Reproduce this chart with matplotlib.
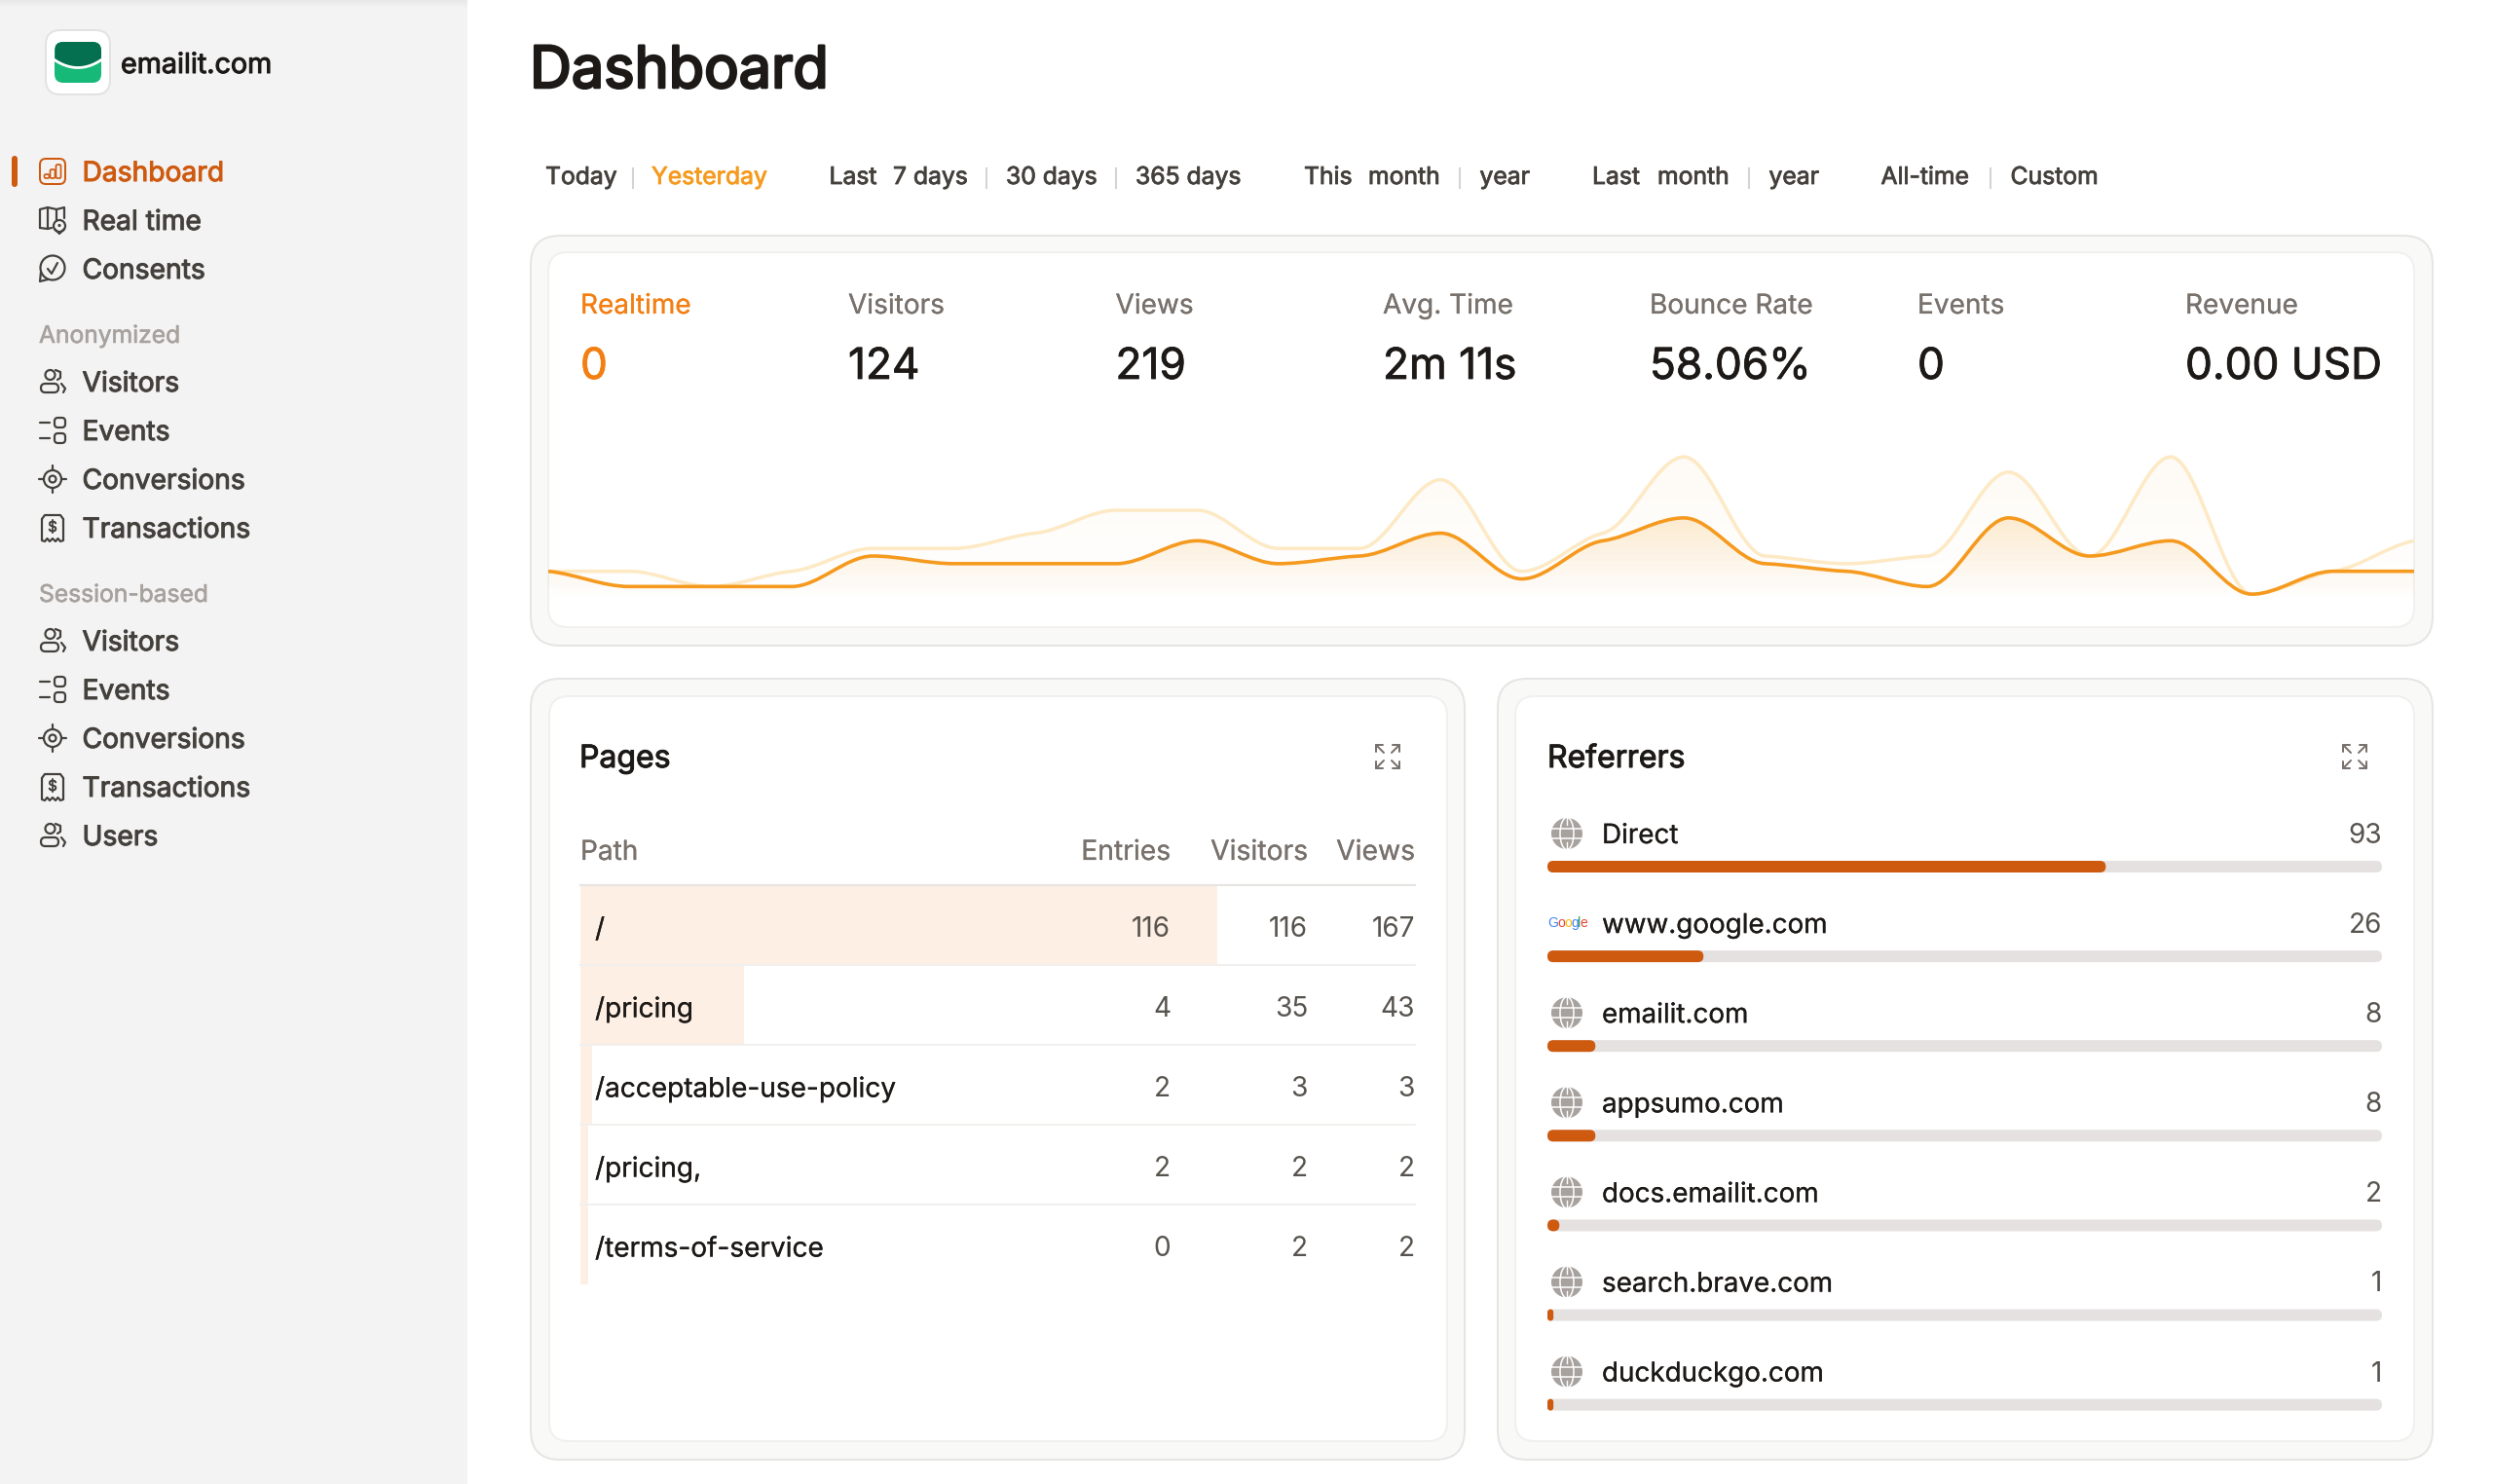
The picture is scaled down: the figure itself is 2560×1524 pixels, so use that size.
import numpy as np
import matplotlib
matplotlib.use("Agg")
import matplotlib.pyplot as plt
import matplotlib.patheffects as pe
from matplotlib.colors import LinearSegmentedColormap
from matplotlib.patches import FancyBboxPatch, PathPatch, Circle, Ellipse, Rectangle
from matplotlib.path import Path

# ---------- data ----------
hours = list(range(24))
visitors_series = [4, 2, 2, 2, 6, 5, 5, 5, 8, 5, 6, 9, 3, 8, 11, 5, 4, 2, 11, 6, 8, 1, 4, 4]
views_series = [4, 4, 2, 4, 7, 7, 9, 12, 12, 7, 7, 16, 4, 9, 19, 6, 5, 6, 17, 6, 19, 1, 4, 8]

kpi_labels = ["Realtime", "Visitors", "Views", "Avg. Time", "Bounce Rate", "Events", "Revenue"]
kpi_values = ["0", "124", "219", "2m 11s", "58.06%", "0", "0.00 USD"]

page_paths = ["/", "/pricing", "/acceptable-use-policy", "/pricing,", "/terms-of-service"]
page_entries = [116, 4, 2, 2, 0]
page_visitors = [116, 35, 3, 2, 2]
page_views = [167, 43, 3, 2, 2]
total_views = 219
page_headers = ["Path", "Entries", "Visitors", "Views"]

ref_names = ["Direct", "www.google.com", "emailit.com", "appsumo.com", "docs.emailit.com", "search.brave.com", "duckduckgo.com"]
ref_values = [93, 26, 8, 8, 2, 1, 1]
ref_total = 139

nav_top = ["Dashboard", "Real time", "Consents"]
nav_anon = ["Visitors", "Events", "Conversions", "Transactions"]
nav_session = ["Visitors", "Events", "Conversions", "Transactions", "Users"]

filter_labels = ["Today", "Yesterday", "Last", "7 days", "30 days", "365 days", "This", "month", "year",
                 "Last", "month", "year", "All-time", "Custom"]

# ---------- style ----------
W, H = 2560, 1524
FONT = ["Inter", "DejaVu Sans"]
plt.rcParams["font.family"] = FONT
INK = "#1C1917"
NAV = "#44403C"
MUTED = "#A8A29E"
LABEL = "#78716C"
NUM = "#57534E"
ACC = "#CE5A10"
AMB = "#F59A1E"
AMB_L = "#FDE9C4"
EDGE = "#E7E5E4"

fig = plt.figure(figsize=(W / 100, H / 100), dpi=100, facecolor="white")


def px_axes(z):
    a = fig.add_axes([0, 0, 1, 1], zorder=z)
    a.set_xlim(0, W)
    a.set_ylim(H, 0)
    a.axis("off")
    a.patch.set_alpha(0)
    return a


def box_axes(x0, y0, x1, y1, z=1):
    a = fig.add_axes([x0 / W, 1 - y1 / H, (x1 - x0) / W, (y1 - y0) / H], zorder=z)
    a.axis("off")
    a.patch.set_alpha(0)
    return a


bg = px_axes(0)
fg = px_axes(3)


def rr(a, x0, y0, x1, y1, r, fc="none", ec="none", lw=0.0, z=1):
    p = FancyBboxPatch((x0, y0), x1 - x0, y1 - y0, boxstyle=f"round,pad=0,rounding_size={r}",
                       fc=fc, ec=ec, lw=lw * 0.72, zorder=z)
    a.add_patch(p)
    return p


def txt(x, y, s, size, color=INK, bold=0.0, ha="left"):
    t_ = fg.text(x, y, s, fontsize=size * 0.72, color=color, ha=ha, va="baseline")
    if bold:
        t_.set_path_effects([pe.withStroke(linewidth=bold * 0.72, foreground=color)])
    return t_


def ln(xs, ys, c=NAV, lw=2.2):
    fg.plot(xs, ys, color=c, lw=lw * 0.72, solid_capstyle="round", solid_joinstyle="round")


def circ(cx, cy, r, c=NAV, lw=2.2):
    fg.add_patch(Circle((cx, cy), r, fc="none", ec=c, lw=lw * 0.72))


# ---------- sidebar ----------
bg.add_patch(Rectangle((0, 0), 480, H, fc="#F3F3F3", ec="none"))
bg.imshow(np.linspace(0, 1, 8).reshape(-1, 1), extent=(0, 480, 8, 0),
          cmap=LinearSegmentedColormap.from_list("s", ["#E8E8E8", "#F3F3F3"]), aspect="auto", zorder=2)
bg.set_xlim(0, W)
bg.set_ylim(H, 0)

rr(fg, 47, 31, 113, 97, 15, fc="white", ec="#E2E2E2", lw=2)
lg = rr(fg, 56, 43, 104, 85, 9, fc="#17B978")
t = np.linspace(0, 1, 40)
xc = 56 + 48 * t
fg.fill_between(xc, 40, 60 + 8 * (1 - (2 * t - 1) ** 2), color="#04704F", lw=0, clip_path=lg)
fg.plot(xc, 61.5 + 8 * (1 - (2 * t - 1) ** 2), color="white", lw=2.0, clip_path=lg)
txt(124, 75, "emailit.com", 28.7, INK, 1.0)


def ic_dash(cx, cy, c):
    rr(fg, cx - 13, cy - 13, cx + 13, cy + 13, 6, ec=c, lw=2, z=4)
    for dx, top in ((-6, 3), (0, -2), (6, -7)):
        rr(fg, cx + dx - 2.5, cy + top, cx + dx + 2.5, cy + 7, 1.5, ec=c, lw=1.7, z=4)


def ic_map(cx, cy, c):
    ln([cx - 13, cx - 13, cx - 5, cx + 4, cx + 12, cx + 12], [cy + 8, cy - 11, cy - 13, cy - 11, cy - 13, cy - 2], c)
    ln([cx - 13, cx - 5, cx - 1], [cy + 8, cy + 9, cy + 8], c)
    ln([cx - 5, cx - 5], [cy - 13, cy + 9], c)
    ln([cx + 4, cx + 4], [cy - 11, cy], c)
    circ(cx + 7, cy + 6, 6, c)
    ln([cx + 2, cx + 7, cx + 12], [cy + 9, cy + 14, cy + 9], c)
    fg.add_patch(Circle((cx + 7, cy + 5.5), 1.6, fc=c, ec="none"))


def ic_consent(cx, cy, c):
    circ(cx, cy - 1, 12.5, c)
    ln([cx - 12, cx - 13, cx - 5], [cy + 3, cy + 13, cy + 11], c)
    ln([cx - 5, cx - 1, cx + 5], [cy, cy + 5, cy - 6], c)


def ic_users(cx, cy, c):
    circ(cx - 2.5, cy - 7, 5, c)
    ln([cx + 3, cx + 8, cx + 8, cx + 5], [cy - 12, cy - 10, cy - 4, cy - 2], c)
    rr(fg, cx - 12, cy + 2, cx + 6, cy + 11, 4.5, ec=c, lw=2.2, z=4)
    ln([cx + 9, cx + 13, cx + 11], [cy + 2, cy + 7, cy + 11], c)


def ic_events(cx, cy, c):
    ln([cx - 13, cx - 3], [cy - 8, cy - 8], c)
    ln([cx - 13, cx - 3], [cy + 8, cy + 8], c)
    rr(fg, cx + 2, cy - 13, cx + 13, cy - 3, 3.5, ec=c, lw=2.2, z=4)
    rr(fg, cx + 2, cy + 3, cx + 13, cy + 13, 3.5, ec=c, lw=2.2, z=4)


def ic_conv(cx, cy, c):
    circ(cx, cy, 9, c)
    circ(cx, cy, 3.5, c)
    for dx, dy in ((1, 0), (-1, 0), (0, 1), (0, -1)):
        ln([cx + 9 * dx, cx + 14 * dx], [cy + 9 * dy, cy + 14 * dy], c)


def ic_trans(cx, cy, c):
    xs = [cx + 11, cx + 11, cx + 8, cx + 5.5, cx + 3, cx, cx - 3, cx - 5.5, cx - 8, cx - 11, cx - 11]
    ys = [cy - 9, cy + 13, cy + 14, cy + 11, cy + 14, cy + 11, cy + 14, cy + 11, cy + 14, cy + 13, cy - 9]
    ln(xs, ys, c)
    ln([cx - 11, cx - 8, cx + 8, cx + 11], [cy - 9, cy - 13, cy - 13, cy - 9], c)
    txt(cx, cy + 4, "$", 15, c, 0.6, ha="center")


fg.add_patch(FancyBboxPatch((12, 160), 6, 32, boxstyle="round,pad=0,rounding_size=3", fc=ACC, ec="none"))
nav_icons = {"Dashboard": ic_dash, "Real time": ic_map, "Consents": ic_consent, "Visitors": ic_users,
             "Events": ic_events, "Conversions": ic_conv, "Transactions": ic_trans, "Users": ic_users}


def nav_item(name, cy, active=False):
    c = ACC if active else NAV
    nav_icons[name](54, cy, c)
    txt(84.5, cy + 10, name, 28.2, c, 1.0)


for i, n in enumerate(nav_top):
    nav_item(n, 176 + 50 * i, i == 0)
txt(40, 352, "Anonymized", 24.6, MUTED, 0.6)
for i, n in enumerate(nav_anon):
    nav_item(n, 392 + 50 * i)
txt(40, 618, "Session-based", 24.6, MUTED, 0.6)
for i, n in enumerate(nav_session):
    nav_item(n, 658 + 50 * i)

# ---------- header ----------
txt(544, 90, "Dashboard", 59.4, INK, 2.6)
filter_x = [560, 669, 851.5, 917, 1033, 1166, 1339, 1405, 1519.5, 1635, 1702, 1816.5, 1931.5, 2064.5]
for i, (xp, s) in enumerate(zip(filter_x, filter_labels)):
    txt(xp, 189, s, 24.7, AMB if i == 1 else NAV, 0.8)
for xp in (650, 1013, 1146, 1499, 1796, 2044):
    fg.plot([xp, xp], [173, 193], color="#D6D3D1", lw=1.5)


# ---------- panels ----------
def panel(x0, y0, x1, y1, ix0, iy0, ix1, iy1):
    rr(bg, x0, y0, x1, y1, 30, fc="#F9F9F8", ec=EDGE, lw=2, z=3)
    rr(bg, ix0, iy0, ix1, iy1, 20, fc="white", ec="#F1F0EF", lw=2, z=4)


panel(545, 242, 2498, 663, 563, 259, 2479, 644)
panel(545, 697, 1504, 1499, 564, 715, 1486, 1480)
panel(1538, 697, 2498, 1499, 1556, 715, 2479, 1480)

# ---------- KPIs ----------
kpi_x = [596, 871, 1145.5, 1420, 1694, 1969, 2244]
for i, (xp, l, v) in enumerate(zip(kpi_x, kpi_labels, kpi_values)):
    c = "#F37F12" if i == 0 else INK
    txt(xp, 322, l, 28, "#F37F12" if i == 0 else LABEL, 0.2)
    txt(xp, 389, v, 44.2, c, 0.8)


# ---------- trend chart ----------
def smooth_path(x, y):
    x, y = np.asarray(x, float), np.asarray(y, float)
    h = np.diff(x)
    s = np.diff(y) / h
    m = np.zeros_like(y)
    for i in range(1, len(y) - 1):
        if s[i - 1] * s[i] > 0:
            m[i] = np.sign(s[i]) * 0.5 * min(abs(s[i - 1]), abs(s[i]))
    m[0] = 0.5 * s[0]
    m[-1] = 0.5 * s[-1]
    verts = [(x[0], y[0])]
    codes = [Path.MOVETO]
    for i in range(len(y) - 1):
        verts += [(x[i] + h[i] / 3, y[i] + m[i] * h[i] / 3),
                  (x[i + 1] - h[i] / 3, y[i + 1] - m[i + 1] * h[i] / 3),
                  (x[i + 1], y[i + 1])]
        codes += [Path.CURVE4] * 3
    return verts, codes


ch = box_axes(563, 440, 2479, 644, z=1)
ch.set_xlim(0, 23)
ch.set_ylim(-3.32, 22.73)


def trend(values, line_color, line_w, alpha_top, z):
    verts, codes = smooth_path(hours, values)
    area = PathPatch(Path(verts + [(23, -3.32), (0, -3.32), (0, values[0])],
                          codes + [Path.LINETO, Path.LINETO, Path.LINETO]),
                     fc="none", ec="none", transform=ch.transData)
    ch.add_patch(area)
    top = max(values)
    g = np.zeros((256, 1, 4))
    g[..., 0], g[..., 1], g[..., 2] = 0.96, 0.62, 0.12
    v = np.linspace(top, -3.32, 256).reshape(-1, 1)
    g[..., 3] = alpha_top * np.clip((v - 0.3) / (top - 0.3), 0, 1)
    im = ch.imshow(g, extent=(0, 23, -3.32, top), origin="upper", aspect="auto", zorder=z, interpolation="bilinear")
    im.set_clip_path(area)
    ch.add_patch(PathPatch(Path(verts, codes), fc="none", ec=line_color, lw=line_w * 0.72, zorder=z + 2))


trend(views_series, AMB_L, 3.5, 0.045, 1)
trend(visitors_series, AMB, 3.6, 0.19, 2)
ch.set_xlim(0, 23)
ch.set_ylim(-3.32, 22.73)


# ---------- pages table ----------
def expand_icon(cx, cy):
    c = LABEL
    for sx in (-1, 1):
        for sy in (-1, 1):
            ln([cx + 4 * sx, cx + 12 * sx], [cy + 4 * sy, cy + 12 * sy], c, 2)
            ln([cx + 5 * sx, cx + 12 * sx, cx + 12 * sx], [cy + 12 * sy, cy + 12 * sy, cy + 5 * sy], c, 2)


txt(595, 788, "Pages", 32, INK, 1.0)
expand_icon(1425, 777)
tb = box_axes(596, 909, 1453, 1319, z=1)
tb.set_xlim(0, total_views)
tb.set_ylim(len(page_paths), 0)
tb.barh([i + 0.5 for i in range(len(page_views))], page_views, height=1.0, color="#FDEFE3", lw=0)

txt(596, 883, page_headers[0], 28, LABEL, 0.2)
col_right = [1202, 1343, 1453]
for xr, h_ in zip(col_right, page_headers[1:]):
    txt(xr, 883, h_, 28.3, LABEL, 0.2, ha="right")
fg.plot([596, 1453], [909, 909], color=EDGE, lw=1.6)
for i in range(1, 5):
    yy = 909 + 82 * i
    fg.plot([596, 1453], [yy, yy], color="#F1F0EF", lw=1.4)
for i, p_ in enumerate(page_paths):
    yb = 962.5 + 82 * i
    txt(611, yb, p_, 28, INK, 0.2)
    for xr, col in zip(col_right, (page_entries, page_visitors, page_views)):
        txt(xr, yb, str(col[i]), 28, NUM, ha="right")

# ---------- referrers ----------
txt(1589, 788, "Referrers", 32, INK, 1.0)
expand_icon(2418, 777)
R_X0, R_X1 = 1589, 2446
ROW0, STEP = 856, 92.1
rf = box_axes(R_X0, ROW0, R_X1, ROW0 + STEP * 7, z=1)
rf.set_xlim(0, ref_total)
rf.set_ylim(7, 0)
px_x = ref_total / (R_X1 - R_X0)
px_y = 1 / STEP
bar_h = 12 * px_y
for i, v in enumerate(ref_values):
    yc = i + 34 * px_y
    for wd, col in ((ref_total, "#E5E1E0"), (v, ACC)):
        rs = min(6 * px_x, wd / 2)
        rf.add_patch(FancyBboxPatch((0, yc - bar_h / 2), wd, bar_h,
                                    boxstyle=f"round,pad=0,rounding_size={rs}",
                                    mutation_aspect=px_y / px_x, fc=col, ec="none", clip_on=False))


def globe(cx, cy):
    r = 16
    fg.add_patch(Circle((cx, cy), r, fc=MUTED, ec="none"))
    fg.add_patch(Ellipse((cx, cy), 14, 2 * r + 1, fc="none", ec="white", lw=1.1))
    fg.plot([cx - r, cx + r], [cy - 5, cy - 5], color="white", lw=1.1)
    fg.plot([cx - r, cx + r], [cy + 5, cy + 5], color="white", lw=1.1)
    fg.plot([cx, cx], [cy - r, cy - 9], color="white", lw=1.0)
    fg.plot([cx, cx], [cy + 9, cy + r], color="white", lw=1.0)


goog = list(zip("Google", [0, 10.5, 17.5, 24.5, 31, 33.5], ["#4285F4", "#EA4335", "#FBBC05", "#4285F4", "#34A853", "#EA4335"]))
for i, (n, v) in enumerate(zip(ref_names, ref_values)):
    cy = ROW0 + STEP * i
    if n == "www.google.com":
        for ch_, dx, c in goog:
            fg.text(1589 + dx, cy + 4, ch_, fontsize=14 * 0.72, color=c, family=["Liberation Sans", "DejaVu Sans"], va="baseline")
    else:
        globe(1609, cy)
    txt(1645, cy + 10, n, 27.8, INK, 0.2)
    txt(R_X1, cy + 10, str(v), 28, NUM, ha="right")

fig.savefig("out.png", dpi=100)
